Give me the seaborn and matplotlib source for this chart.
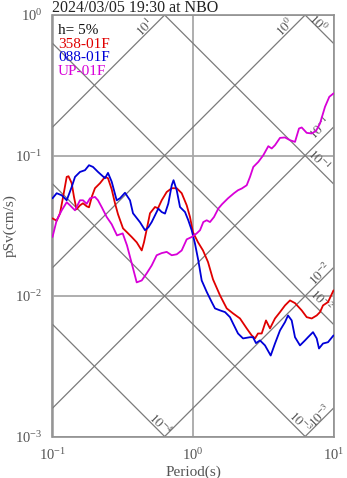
import numpy as np
import pandas as pd
import matplotlib
matplotlib.use("Agg")
import matplotlib.pyplot as plt
import seaborn as sns
from matplotlib.ticker import FixedLocator, LogLocator, NullFormatter, LogFormatterSciNotation

# ---- data -------------------------------------------------------------
title_text = "2024/03/05 19:30 at NBO"
damping_text = "h= 5%"
channels = ["358-01F", "088-01F", "UP-01F"]
channel_colors = ["#e00000", "#0000d8", "#d800d8"]

period_358 = [0.100, 0.1071, 0.1131, 0.1188, 0.1262, 0.1300, 0.1370, 0.1422, 0.1482, 0.1569,
              0.1649, 0.1751, 0.1819, 0.1910, 0.2006, 0.2178, 0.2364, 0.2483, 0.2638, 0.2785,
              0.2925, 0.3176, 0.3391, 0.3662, 0.3975, 0.4315, 0.4478, 0.4683, 0.4943, 0.5364,
              0.5634, 0.5987, 0.6498, 0.7056, 0.7657, 0.8309, 0.9020, 0.9520, 1.000, 1.086,
              1.178, 1.279, 1.388, 1.557, 1.738, 1.927, 2.160, 2.411, 2.617, 2.763,
              2.901, 3.083, 3.308, 3.532, 3.833, 4.161, 4.517, 4.902, 5.321, 5.938,
              6.447, 6.996, 7.594, 8.016, 8.420, 9.140, 10.0]
psv_358 = [0.0357, 0.0343, 0.0388, 0.0504, 0.0704, 0.0712, 0.0635, 0.0507, 0.0414, 0.0442,
           0.0457, 0.0435, 0.0428, 0.0513, 0.0585, 0.0635, 0.0704, 0.0689, 0.0575, 0.0457,
           0.0382, 0.0303, 0.0284, 0.0263, 0.0241, 0.0211, 0.0241, 0.0298, 0.0388, 0.0430,
           0.0421, 0.0480, 0.0550, 0.0585, 0.0585, 0.0539, 0.0442, 0.0365, 0.0284, 0.0241,
           0.0211, 0.01744, 0.01313, 0.0101, 0.00816, 0.00752, 0.00692, 0.00588, 0.00524, 0.00499,
           0.00541, 0.00541, 0.0067, 0.00588, 0.00692, 0.00768, 0.00857, 0.0093, 0.0089, 0.0079,
           0.00707, 0.00692, 0.00727, 0.00768, 0.00857, 0.00905, 0.01096]

period_088 = [0.100, 0.1071, 0.1163, 0.1262, 0.1370, 0.1446, 0.1569, 0.1703, 0.1819, 0.1942,
              0.2108, 0.2364, 0.2483, 0.2638, 0.2863, 0.3023, 0.3281, 0.3561, 0.3741, 0.4196,
              0.4554, 0.4808, 0.5082, 0.5364, 0.5662, 0.5987, 0.6320, 0.6672, 0.7056, 0.7268,
              0.7657, 0.8082, 0.8771, 0.9258, 0.9788, 1.033, 1.091, 1.153, 1.252, 1.359,
              1.434, 1.557, 1.690, 1.834, 1.927, 2.091, 2.270, 2.545, 2.673, 2.808,
              2.998, 3.254, 3.573, 3.833, 4.161, 4.517, 4.745, 5.040, 5.321, 5.774,
              6.268, 6.586, 7.148, 7.594, 7.885, 8.420, 9.140, 10.0]
psv_088 = [0.0496, 0.0539, 0.0521, 0.0480, 0.0597, 0.0704, 0.0764, 0.0786, 0.0853, 0.0829,
           0.0764, 0.0689, 0.0752, 0.0651, 0.0480, 0.0496, 0.0543, 0.0480, 0.0388, 0.0335,
           0.0294, 0.0308, 0.0336, 0.0375, 0.0419, 0.0396, 0.0386, 0.0455, 0.0614, 0.0667,
           0.0566, 0.0430, 0.0396, 0.0346, 0.0294, 0.0236, 0.0179, 0.0129, 0.0107, 0.00905,
           0.00816, 0.0079, 0.00768, 0.00707, 0.00638, 0.00541, 0.00499, 0.00509, 0.00509, 0.00462,
           0.00483, 0.00445, 0.00377, 0.00459, 0.00569, 0.00652, 0.00727, 0.0067, 0.00509, 0.00445,
           0.00483, 0.00509, 0.00553, 0.00499, 0.00423, 0.00459, 0.00469, 0.00524]

period_up = [0.100, 0.1071, 0.1163, 0.1262, 0.1332, 0.1446, 0.1569, 0.1649, 0.1751, 0.1849,
             0.2006, 0.2108, 0.2251, 0.2431, 0.2638, 0.2878, 0.3160, 0.3391, 0.3662, 0.3975,
             0.4315, 0.4683, 0.5082, 0.5514, 0.5987, 0.6498, 0.7056, 0.7657, 0.8309, 0.9020,
             0.9788, 1.062, 1.122, 1.184, 1.252, 1.321, 1.411, 1.514, 1.609, 1.775,
             1.958, 2.091, 2.222, 2.411, 2.545, 2.687, 2.916, 3.166, 3.436, 3.633,
             3.833, 4.161, 4.517, 4.902, 5.321, 5.681, 5.938, 6.447, 6.996, 7.506,
             8.016, 8.700, 9.335, 10.0]
psv_up = [0.0263, 0.0346, 0.0407, 0.0465, 0.0442, 0.0407, 0.0480, 0.0480, 0.0453, 0.0496,
          0.0507, 0.0480, 0.0425, 0.0365, 0.0324, 0.0270, 0.0279, 0.0229, 0.0171, 0.0125,
          0.0129, 0.0145, 0.0165, 0.0195, 0.0202, 0.0206, 0.0195, 0.0198, 0.0211, 0.0253,
          0.0263, 0.0279, 0.0294, 0.0336, 0.0346, 0.0336, 0.0365, 0.0419, 0.0450, 0.0496,
          0.0539, 0.0566, 0.0582, 0.0614, 0.0704, 0.0829, 0.0900, 0.1005, 0.1165, 0.1122,
          0.1184, 0.1335, 0.1344, 0.1285, 0.1250, 0.1557, 0.1583, 0.1449, 0.1435, 0.1497,
          0.1690, 0.2220, 0.2616, 0.2766]

# tripartite reference levels
accel_levels = [1e1, 1e0, 1e-1, 1e-2, 1e-3]   # pseudo acceleration, cm/s^2
disp_levels = [1e0, 1e-1, 1e-2, 1e-3, 1e-4]   # displacement, cm

# ---- style ------------------------------------------------------------
sns.set_style("white")
plt.rcParams["font.family"] = ["Liberation Serif", "DejaVu Serif"]
plt.rcParams["mathtext.fontset"] = "stix"

GRAY_TXT = "#555555"
GRAY_LINE = "#7a7a7a"

fig = plt.figure(figsize=(3.47, 4.78), dpi=100)
ax = fig.add_axes([52.5 / 347, 41.5 / 478, 281 / 347, 421.5 / 478])
ax.set_xscale("log")
ax.set_yscale("log")
ax.set_xlim(0.1, 10)
ax.set_ylim(1e-3, 1)

# diagonal lines: rising = constant acceleration, falling = constant displacement
T_span = np.array([0.1, 10.0])
two_pi = 2 * np.pi
for sa in accel_levels:
    ax.plot(T_span, sa * T_span / two_pi, color=GRAY_LINE, lw=0.9, zorder=1)
for sd in disp_levels:
    ax.plot(T_span, two_pi * sd / T_span, color=GRAY_LINE, lw=0.9, zorder=1)


def level_label(v):
    return r"$10^{%d}$" % int(round(np.log10(v)))


# (period on the line, vertical offset in pixels)
accel_label_pos = [(0.455, 7), (4.52, 8), (8.02, 12), (8.13, 6), (8.13, 5)]
disp_label_pos = [(7.76, 5), (7.86, 9), (8.13, 11), (5.77, 9), (0.581, 7)]
for sa, (t, dy) in zip(accel_levels, accel_label_pos):
    ax.annotate(level_label(sa), (t, sa * t / two_pi), xytext=(0, dy),
                textcoords="offset pixels", rotation=45, rotation_mode="anchor",
                ha="center", va="center", fontsize=9.5, color=GRAY_TXT, zorder=2)
for sd, (t, dy) in zip(disp_levels, disp_label_pos):
    ax.annotate(level_label(sd), (t, two_pi * sd / t), xytext=(0, dy),
                textcoords="offset pixels", rotation=-45, rotation_mode="anchor",
                ha="center", va="center", fontsize=9.5, color=GRAY_TXT, zorder=2)

# spectra
frames = []
for name, T, V in zip(channels, [period_358, period_088, period_up], [psv_358, psv_088, psv_up]):
    frames.append(pd.DataFrame({"period": T, "psv": V, "channel": name}))
df = pd.concat(frames, ignore_index=True)
sns.lineplot(data=df, x="period", y="psv", hue="channel", hue_order=channels,
             palette=dict(zip(channels, channel_colors)), estimator=None, sort=False,
             lw=1.3, legend=False, ax=ax, zorder=3)

# axes, ticks, grid
ax.set_xlim(0.1, 10)
ax.set_ylim(1e-3, 1)
ax.xaxis.set_major_locator(FixedLocator([0.1, 1, 10]))
ax.yaxis.set_major_locator(FixedLocator([1e-3, 1e-2, 1e-1, 1]))
ax.xaxis.set_minor_locator(LogLocator(base=10, subs=np.arange(2, 10)))
ax.yaxis.set_minor_locator(LogLocator(base=10, subs=np.arange(2, 10)))
ax.xaxis.set_major_formatter(LogFormatterSciNotation())
ax.yaxis.set_major_formatter(LogFormatterSciNotation())
ax.xaxis.set_minor_formatter(NullFormatter())
ax.yaxis.set_minor_formatter(NullFormatter())
ax.tick_params(which="major", direction="out", length=4.5, width=0.9, color=GRAY_LINE,
               labelsize=10.5, labelcolor=GRAY_TXT, pad=3)
ax.tick_params(which="minor", direction="out", length=2.5, width=0.8, color=GRAY_LINE)
ax.grid(True, which="major", color="#a8a8a8", lw=1.3, zorder=0)
ax.set_axisbelow(True)
for sp in ax.spines.values():
    sp.set_color("#909090")
    sp.set_linewidth(1.2)

ax.set_xlabel("Period(s)", fontsize=11, color=GRAY_TXT, labelpad=2)
ax.set_ylabel("pSv(cm/s)", fontsize=11, color=GRAY_TXT)
ax.yaxis.set_label_coords(-0.128, 0.5)
ax.set_title(title_text, loc="left", fontsize=11.5, color="#222222", pad=2)

# legend block as coloured text
ax.text(0.02, 0.964, damping_text, transform=ax.transAxes, fontsize=11, color="#111111",
        ha="left", va="center", zorder=4)
for i, (name, col) in enumerate(zip(channels, channel_colors)):
    ax.text(0.02, 0.931 - 0.033 * i, name, transform=ax.transAxes, fontsize=11, color=col,
            ha="left", va="center", zorder=4)

fig.savefig("out.png", dpi=100)
